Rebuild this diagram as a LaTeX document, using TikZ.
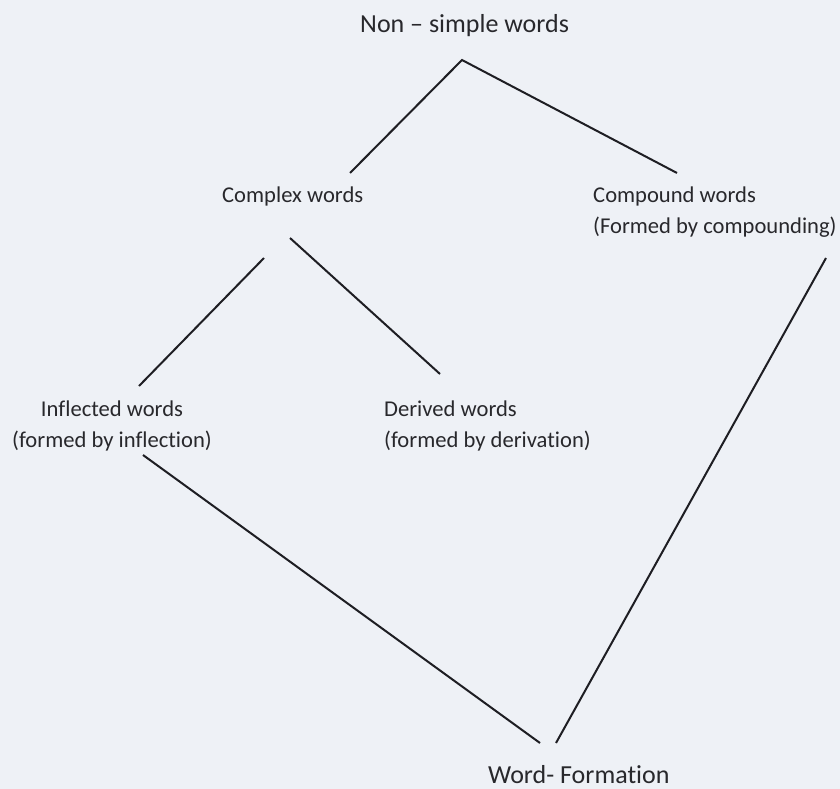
\documentclass[tikz,border=0pt]{standalone}
\usepackage{fontspec}
\setmainfont{Carlito}[Ligatures=CommonOff]
\definecolor{bg}{RGB}{238,241,246}
\definecolor{ink}{RGB}{40,40,44}
\definecolor{lineink}{RGB}{30,30,35}
\begin{document}
\begin{tikzpicture}[x=1pt,y=-1pt,
  lbl/.style={inner sep=0pt, text=ink, font=\fontsize{22.6}{30.5}\selectfont},
  big/.style={inner sep=0pt, text=ink, font=\fontsize{26}{31}\selectfont},
  link/.style={draw=lineink, line width=2pt}]
\fill[bg] (0,0) rectangle (840,789);
\useasboundingbox (0,0) rectangle (840,789);
% labels (multi-line nodes: base = last line's baseline)
\node[big, anchor=base west] (non) at (360,33) {Non – simple words};
\node[lbl, anchor=base west] (complex) at (222,202) {Complex words};
\node[lbl, anchor=base west, align=left] (compound) at (593,233) {Compound words\\(Formed by compounding)};
\node[lbl, anchor=base, align=center] (inflected) at (112,447) {Inflected words\\(formed by inflection)};
\node[lbl, anchor=base west, align=left] (derived) at (384,447) {Derived words\\(formed by derivation)};
\node[big, anchor=base west] (wf) at (488,783) {Word- Formation};
% connector end points
\coordinate (apex) at (462,60);
\coordinate (cxTop) at (350,173);
\coordinate (cpTop) at (677,173);
\coordinate (cxL) at (264,258);
\coordinate (infTop) at (139,386);
\coordinate (cxR) at (290,238);
\coordinate (derTop) at (440,374);
\coordinate (cpBot) at (826,258);
\coordinate (infBot) at (143,455);
\coordinate (wfL) at (540,743);
\coordinate (wfR) at (556,743);
% connectors
\draw[link] (cxTop) -- (apex) -- (cpTop);
\draw[link] (cxL) -- (infTop);
\draw[link] (cxR) -- (derTop);
\draw[link] (cpBot) -- (wfR);
\draw[link] (infBot) -- (wfL);
\end{tikzpicture}
\end{document}
